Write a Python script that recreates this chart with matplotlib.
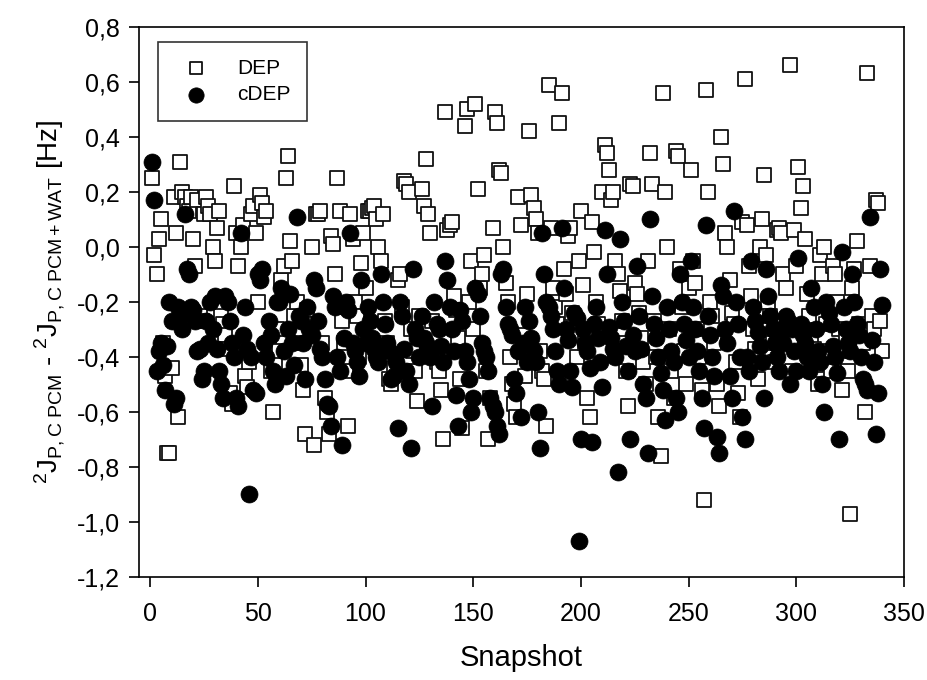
import numpy as np
import matplotlib
matplotlib.use("Agg")
import matplotlib.pyplot as plt
from matplotlib.ticker import FuncFormatter, MultipleLocator

plt.rcParams['font.family'] = ['Liberation Sans', 'DejaVu Sans']
plt.rcParams['mathtext.fontset'] = 'custom'
plt.rcParams['mathtext.rm'] = 'Liberation Sans'
plt.rcParams['mathtext.it'] = 'Liberation Sans'

# values, 25 snapshots per row
dep = [
    0.25, -0.03, -0.10, 0.03, 0.10, -0.35, -0.47, -0.75, -0.75, -0.44, 0.18, 0.05, -0.62, 0.31, 0.20, 0.18, 0.15, 0.13, 0.18, 0.03, -0.07, 0.17, -0.25, -0.27, 0.12,
    0.18, 0.15, 0.12, 0.00, -0.05, 0.07, 0.13, -0.25, -0.28, -0.32, -0.37, -0.53, -0.57, 0.22, 0.05, -0.07, 0.00, 0.08, -0.47, -0.51, -0.42, 0.12, 0.15, 0.05, -0.20,
    0.19, 0.16, 0.11, 0.13, -0.35, -0.45, -0.60, -0.42, -0.30, -0.38, -0.12, -0.07, 0.25, 0.33, 0.02, -0.05, -0.25, -0.20, -0.35, -0.43, -0.52, -0.68, -0.23, -0.28, 0.00,
    -0.72, 0.12, 0.12, 0.13, -0.35, -0.55, -0.60, -0.68, 0.04, 0.01, -0.10, 0.25, 0.13, -0.27, -0.35, -0.45, -0.65, 0.12, 0.03, -0.20, -0.25, -0.40, -0.06, 0.05, -0.15,
    0.13, 0.13, 0.14, 0.15, 0.10, 0.00, -0.05, 0.12, -0.27, -0.35, -0.48, -0.50, -0.44, -0.40, -0.12, -0.10, -0.22, 0.24, 0.23, 0.20, -0.30, -0.38, -0.45, -0.56, -0.25,
    0.21, 0.15, 0.32, 0.12, 0.05, -0.27, -0.38, -0.42, -0.45, -0.52, -0.70, 0.49, 0.06, 0.08, 0.09, -0.18, -0.23, -0.33, -0.48, -0.66, 0.44, 0.50, -0.20, -0.05, -0.30,
    0.52, 0.21, -0.15, -0.10, -0.03, -0.45, -0.70, -0.55, 0.07, 0.49, 0.45, 0.28, 0.27, 0.00, -0.13, -0.20, -0.40, -0.50, -0.57, -0.62, 0.18, 0.08, -0.32, -0.47, -0.17,
    0.42, 0.19, 0.14, 0.10, 0.05, -0.38, -0.45, -0.48, -0.65, 0.59, 0.07, -0.15, -0.22, -0.28, 0.45, 0.56, -0.08, -0.17, 0.04, 0.07, -0.24, -0.32, -0.40, -0.05, 0.13,
    -0.14, -0.35, -0.55, -0.62, 0.09, -0.02, -0.20, -0.28, -0.31, 0.20, 0.37, 0.34, 0.28, 0.17, 0.20, -0.05, -0.10, -0.16, -0.27, -0.35, -0.45, -0.58, 0.23, 0.22, -0.13,
    -0.17, -0.24, -0.33, -0.42, -0.50, -0.05, 0.34, 0.23, -0.27, -0.40, -0.62, -0.76, 0.56, 0.20, 0.00, -0.30, -0.45, -0.55, 0.35, 0.33, -0.08, -0.22, -0.38, -0.50, -0.15,
    0.28, -0.05, -0.13, -0.30, -0.40, -0.52, -0.92, 0.57, 0.20, -0.20, -0.25, -0.35, -0.50, -0.58, 0.40, 0.30, 0.05, 0.00, -0.12, -0.24, -0.28, -0.42, -0.53, -0.62, 0.09,
    0.61, 0.08, -0.07, -0.18, -0.30, -0.37, -0.48, 0.00, 0.10, 0.26, -0.03, -0.20, -0.25, -0.35, -0.42, 0.06, 0.07, 0.05, -0.10, -0.15, -0.30, 0.66, -0.45, 0.06, -0.07,
    0.29, 0.14, 0.22, 0.03, -0.17, -0.25, -0.33, -0.37, -0.43, -0.50, -0.03, -0.10, 0.00, -0.28, -0.38, -0.45, -0.07, -0.10, -0.20, -0.30, -0.52, -0.38, -0.33, -0.45, -0.97,
    -0.15, -0.08, 0.02, -0.28, -0.32, -0.35, -0.60, 0.63, -0.07, -0.25, -0.30, 0.17, 0.16, -0.27, -0.38,
]
cdep = [
    0.31, 0.17, -0.45, -0.38, -0.35, -0.43, -0.52, -0.36, -0.20, -0.27, -0.57, -0.55, -0.22, -0.25, -0.30, 0.12, -0.08, -0.10, -0.22, -0.23, -0.27, -0.38, -0.37, -0.48, -0.45,
    -0.27, -0.35, -0.20, -0.30, -0.18, -0.37, -0.45, -0.50, -0.55, -0.18, -0.20, -0.27, -0.35, -0.40, -0.55, -0.58, 0.05, -0.32, -0.22, -0.37, -0.90, -0.40, -0.52, -0.53, -0.10,
    -0.12, -0.08, -0.35, -0.40, -0.27, -0.32, -0.45, -0.50, -0.20, -0.20, -0.15, -0.38, -0.47, -0.30, -0.17, -0.35, -0.43, 0.11, -0.25, -0.27, -0.35, -0.48, -0.22, -0.30, -0.32,
    -0.12, -0.15, -0.27, -0.37, -0.40, -0.48, -0.57, -0.58, -0.65, -0.18, -0.22, -0.40, -0.45, -0.72, -0.33, -0.20, -0.23, 0.05, -0.35, -0.38, -0.42, -0.47, -0.12, -0.30, -0.35,
    -0.22, -0.27, -0.33, -0.37, -0.40, -0.42, -0.10, -0.20, -0.28, -0.35, -0.38, -0.48, -0.47, -0.42, -0.66, -0.20, -0.25, -0.37, -0.45, -0.50, -0.73, -0.08, -0.30, -0.33, -0.40,
    -0.25, -0.33, -0.35, -0.38, -0.40, -0.58, -0.20, -0.28, -0.30, -0.36, -0.42, -0.05, -0.12, -0.22, -0.30, -0.38, -0.54, -0.65, -0.23, -0.27, -0.38, -0.42, -0.48, -0.60, -0.55,
    -0.15, -0.17, -0.25, -0.35, -0.38, -0.40, -0.45, -0.55, -0.58, -0.60, -0.65, -0.68, -0.10, -0.08, -0.22, -0.28, -0.30, -0.32, -0.48, -0.53, -0.38, -0.62, -0.35, -0.22, -0.42,
    -0.27, -0.33, -0.38, -0.42, -0.60, -0.73, 0.05, -0.10, -0.20, -0.22, -0.25, -0.30, -0.38, -0.45, -0.50, 0.07, -0.15, -0.30, -0.34, -0.45, -0.51, -0.24, -0.26, -1.07, -0.70,
    -0.30, -0.35, -0.38, -0.44, -0.71, -0.28, -0.22, -0.33, -0.42, -0.51, 0.06, -0.10, -0.29, -0.33, -0.37, -0.40, -0.82, 0.03, -0.20, -0.27, -0.36, -0.45, -0.70, -0.32, -0.38,
    -0.07, -0.25, -0.37, -0.50, -0.55, -0.75, 0.10, -0.18, -0.28, -0.33, -0.40, -0.46, -0.52, -0.63, -0.22, -0.30, -0.38, -0.42, -0.55, -0.60, -0.10, -0.20, -0.28, -0.34, -0.40,
    -0.05, -0.22, -0.30, -0.38, -0.45, -0.55, -0.66, 0.08, -0.25, -0.32, -0.40, -0.47, -0.69, -0.75, -0.14, -0.18, -0.30, -0.35, -0.47, -0.55, 0.13, -0.20, -0.28, -0.40, -0.62,
    -0.70, -0.40, -0.45, -0.05, -0.22, -0.27, -0.31, -0.36, -0.42, -0.55, -0.08, -0.18, -0.25, -0.30, -0.35, -0.40, -0.45, -0.30, -0.35, -0.25, -0.27, -0.50, -0.30, -0.38, -0.45,
    -0.04, -0.28, -0.32, -0.35, -0.40, -0.45, -0.15, -0.22, -0.30, -0.38, -0.42, -0.50, -0.60, -0.20, -0.24, -0.28, -0.36, -0.40, -0.46, -0.70, -0.02, -0.22, -0.30, -0.35, -0.38,
    -0.10, -0.20, -0.28, -0.32, -0.40, -0.48, -0.50, -0.52, 0.11, -0.34, -0.42, -0.68, -0.53, -0.08, -0.21,
]
snapshot = np.arange(1, len(dep) + 1)

fig = plt.figure(figsize=(9.27, 6.8), dpi=100)
ax = fig.add_axes([0.1503, 0.1515, 0.8249, 0.8092])

ax.scatter(snapshot, dep, marker='s', s=95, facecolors='white', edgecolors='#111111',
           linewidths=1.3, label='DEP', zorder=2)
ax.scatter(snapshot, cdep, marker='o', s=150, facecolors='black', edgecolors='black',
           linewidths=0.5, label='cDEP', zorder=3)

ax.set_xlim(-5, 350)
ax.set_ylim(-1.2, 0.8)
ax.xaxis.set_major_locator(MultipleLocator(50))
ax.yaxis.set_major_locator(MultipleLocator(0.2))
ax.yaxis.set_major_formatter(FuncFormatter(lambda v, p: ('%.1f' % v).replace('.', ',').replace('-0,0', '0,0')))
ax.tick_params(direction='out', length=7, width=1.2, labelsize=18, top=False, right=False)
ax.tick_params(axis='x', pad=11)
ax.tick_params(axis='y', pad=7)
for sp in ax.spines.values():
    sp.set_linewidth(1.2)

ax.set_xlabel('Snapshot', fontsize=21, labelpad=13)
ax.set_ylabel(r'$^{2}$J$_{\mathrm{P,C\ PCM}}$ - $^{2}$J$_{\mathrm{P,C\ PCM+WAT}}$ [Hz]', fontsize=20, labelpad=7)

leg = ax.legend(loc='upper left', bbox_to_anchor=(0.0245, 0.972), fontsize=15, frameon=True,
                fancybox=False, edgecolor='black', borderpad=0.8, handletextpad=1.0,
                labelspacing=0.35, borderaxespad=0, markerscale=0.9)
leg.get_frame().set_linewidth(1.2)

fig.savefig('out.png', dpi=100)
